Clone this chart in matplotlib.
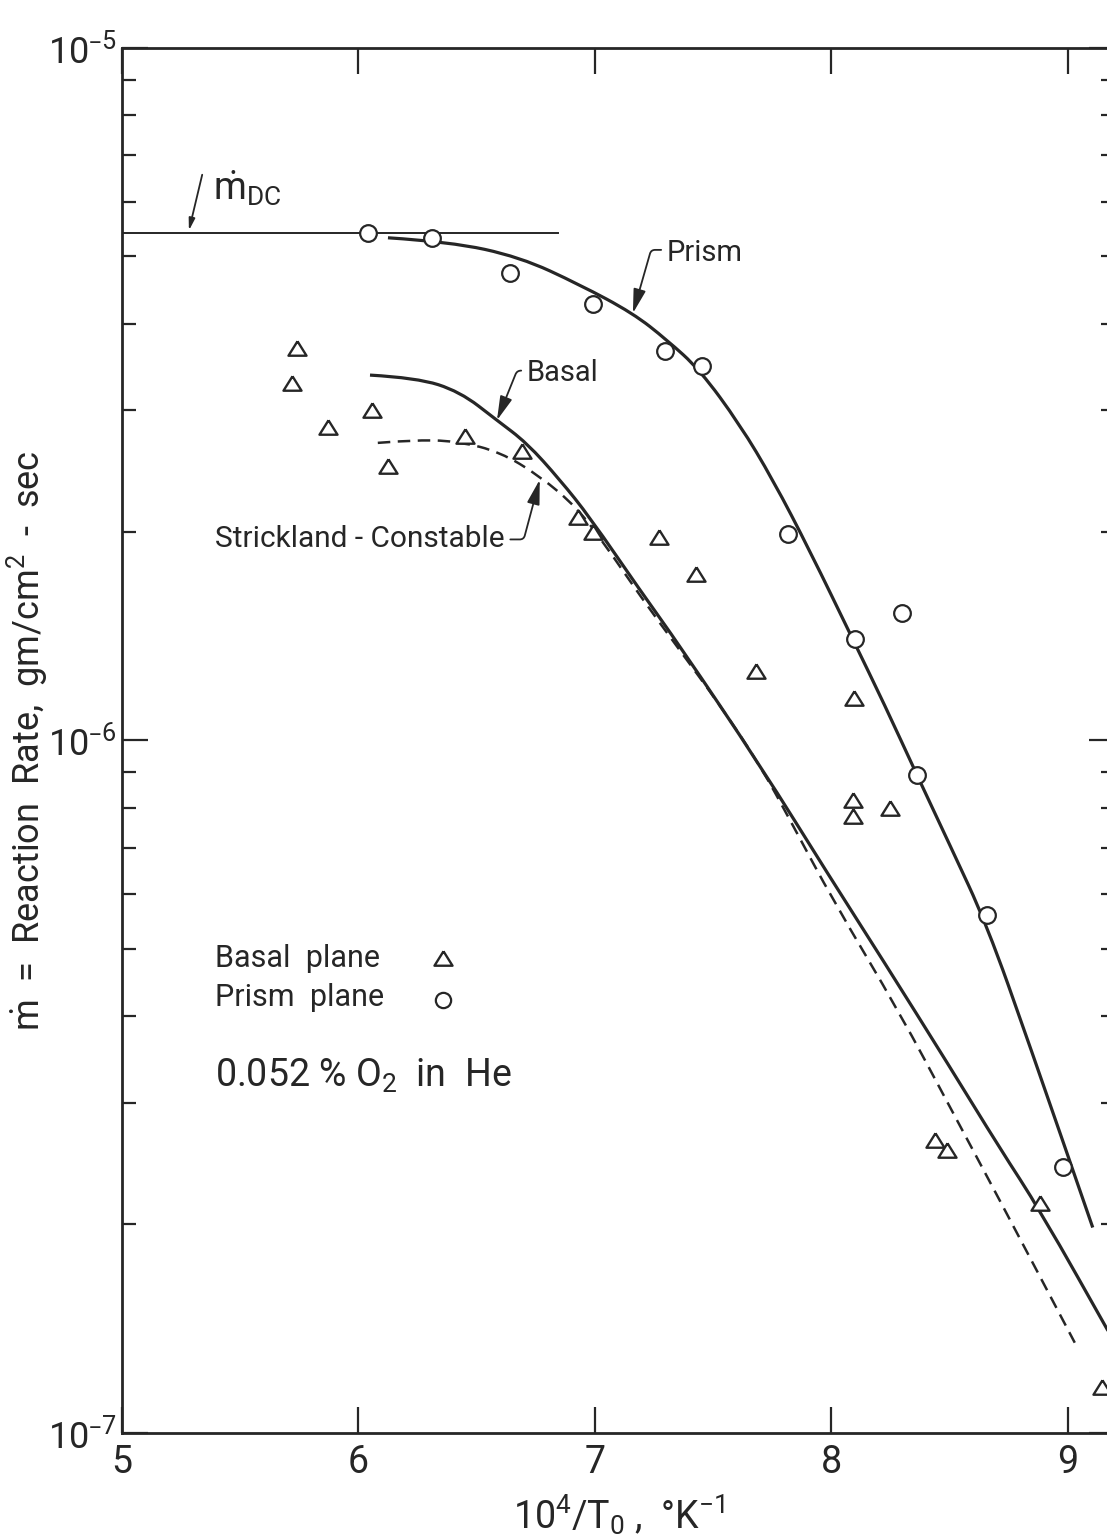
import numpy as np
import matplotlib.pyplot as plt
from matplotlib.path import Path
from matplotlib.patches import PathPatch
from matplotlib.ticker import FixedLocator, LogLocator, FuncFormatter, NullFormatter

plt.rcParams['font.family'] = ['Roboto', 'DejaVu Sans']
plt.rcParams['mathtext.default'] = 'regular'

ink = '#262626'

# measured reaction rates, x = 10^4/T0
basal_x = [5.740, 5.719, 6.057, 5.871, 6.450, 6.691, 6.125, 6.928, 6.992, 7.271,
           7.427, 7.681, 8.095, 8.091, 8.091, 8.247, 8.438, 8.488, 8.882, 9.144]
basal_y = [3.69e-6, 3.28e-6, 3.00e-6, 2.84e-6, 2.75e-6, 2.62e-6, 2.49e-6, 2.10e-6, 2.00e-6, 1.97e-6,
           1.74e-6, 1.26e-6, 1.15e-6, 8.21e-7, 7.78e-7, 7.99e-7, 2.65e-7, 2.56e-7, 2.15e-7, 1.165e-7]

prism_x = [6.040, 6.311, 6.641, 6.992, 7.296, 7.452, 7.816, 8.298, 8.099, 8.362, 8.658, 8.979]
prism_y = [5.41e-6, 5.32e-6, 4.73e-6, 4.27e-6, 3.65e-6, 3.47e-6, 1.99e-6, 1.53e-6, 1.40e-6,
           8.92e-7, 5.60e-7, 2.42e-7]

# hand drawn curves from the original
prism_fit_x = [6.125, 6.387, 6.683, 6.937, 7.161, 7.304, 7.444, 7.613, 7.753, 7.909,
               8.091, 8.226, 8.362, 8.501, 8.658, 8.839, 9.106]
prism_fit_y = [5.32e-6, 5.25e-6, 4.99e-6, 4.55e-6, 4.14e-6, 3.79e-6, 3.43e-6, 2.86e-6, 2.38e-6, 1.88e-6,
               1.40e-6, 1.125e-6, 8.92e-7, 7.07e-7, 5.42e-7, 3.63e-7, 1.98e-7]

basal_fit_x = [6.049, 6.247, 6.429, 6.586, 6.712, 6.852, 6.979, 7.190, 7.359, 7.698,
               7.994, 8.218, 8.501, 8.712, 8.882, 9.199]
basal_fit_y = [3.37e-6, 3.34e-6, 3.19e-6, 2.90e-6, 2.69e-6, 2.38e-6, 2.10e-6, 1.65e-6, 1.37e-6, 9.22e-7,
               6.35e-7, 4.82e-7, 3.38e-7, 2.58e-7, 2.10e-7, 1.35e-7]

sc_x = [6.082, 6.260, 6.429, 6.598, 6.767, 6.924, 7.042, 7.190, 7.359, 7.529,
        7.698, 7.837, 8.006, 8.290, 8.501, 8.712, 9.030]
sc_y = [2.69e-6, 2.72e-6, 2.70e-6, 2.61e-6, 2.41e-6, 2.17e-6, 1.92e-6, 1.62e-6, 1.35e-6, 1.125e-6,
        9.22e-7, 7.55e-7, 5.89e-7, 4.04e-7, 2.96e-7, 2.17e-7, 1.35e-7]

mdc_x = [5.0, 6.844]
mdc_y = [5.41e-6, 5.41e-6]

tri = [(0, 0.8), (-1, -0.8), (1, -0.8), (0, 0.8)]


def curve(xs, ys, **kw):
    # quadratic bezier through the read points (midpoints in log space)
    lx = np.asarray(xs, float)
    ly = np.log10(ys)
    verts = [(lx[0], ly[0])]
    codes = [Path.MOVETO]
    for i in range(1, len(lx) - 1):
        verts += [(lx[i], ly[i]), ((lx[i] + lx[i + 1]) / 2, (ly[i] + ly[i + 1]) / 2)]
        codes += [Path.CURVE3, Path.CURVE3]
    verts.append((lx[-1], ly[-1]))
    codes.append(Path.LINETO)
    v = np.array(verts)
    v[:, 1] = 10 ** v[:, 1]
    ax.add_patch(PathPatch(Path(v, codes), fill=False, edgecolor=ink, capstyle='butt', **kw))


fig = plt.figure(figsize=(11.07, 15.38), dpi=100)
ax = fig.add_axes([0.1102, 0.0683, 0.8970, 0.9005])
ax.set_yscale('log')
ax.set_xlim(5, 9.2)
ax.set_ylim(1e-7, 1e-5)

ax.plot(mdc_x, mdc_y, color=ink, lw=1.4, zorder=2)
curve(prism_fit_x, prism_fit_y, lw=2.3, zorder=2)
curve(basal_fit_x, basal_fit_y, lw=2.3, zorder=2)
curve(sc_x, sc_y, lw=1.8, linestyle=(0, (5, 3)), zorder=2)

ax.plot(prism_x, prism_y, 'o', ms=12, mfc='white', mec=ink, mew=1.6, zorder=3)
ax.plot(basal_x, basal_y, ls='none', marker=tri, ms=13, mfc='white', mec=ink, mew=1.7, zorder=3)

arrow = dict(arrowstyle='-|>,head_length=0.7,head_width=0.18', color=ink, lw=1.3,
             shrinkA=2, shrinkB=0)

ax.annotate('', xy=(5.283, 5.45e-6), xytext=(5.342, 6.62e-6),
            arrowprops=dict(arrow, connectionstyle='arc3'))
ax.text(5.385, 6.03e-6, r'$\dot{m}_{DC}$', fontsize=27, color=ink, va='baseline')

ax.annotate('Prism', xy=(7.161, 4.14e-6), xytext=(7.304, 4.93e-6), fontsize=21, color=ink,
            ha='left', va='baseline',
            arrowprops=dict(arrow, relpos=(0, 0.6),
                            connectionstyle='angle,angleA=0,angleB=74,rad=4'))
ax.annotate('Basal', xy=(6.586, 2.90e-6), xytext=(6.712, 3.30e-6), fontsize=21, color=ink,
            ha='left', va='baseline',
            arrowprops=dict(arrow, relpos=(0, 0.6),
                            connectionstyle='angle,angleA=0,angleB=68,rad=4'))
ax.annotate('Strickland - Constable', xy=(6.767, 2.38e-6), xytext=(6.619, 1.90e-6), fontsize=21.5,
            color=ink, ha='right', va='baseline',
            arrowprops=dict(arrow, relpos=(1, 0.5),
                            connectionstyle='angle,angleA=0,angleB=75,rad=4'))

ax.text(5.393, 4.71e-7, 'Basal  plane', fontsize=22, color=ink, va='baseline')
ax.text(5.393, 4.14e-7, 'Prism  plane', fontsize=22, color=ink, va='baseline')
ax.plot([6.357], [4.85e-7], ls='none', marker=tri, ms=13, mfc='white', mec=ink, mew=1.7)
ax.plot([6.357], [4.22e-7], 'o', ms=11, mfc='white', mec=ink, mew=1.6)
ax.text(5.393, 3.16e-7, '0.052 % O$_2$  in  He', fontsize=27, color=ink, va='baseline')

ax.xaxis.set_major_locator(FixedLocator([5, 6, 7, 8, 9]))
ax.yaxis.set_major_locator(FixedLocator([1e-7, 1e-6, 1e-5]))
ax.yaxis.set_minor_locator(LogLocator(base=10, subs=np.arange(2, 10)))
ax.yaxis.set_minor_formatter(NullFormatter())
ax.yaxis.set_major_formatter(
    FuncFormatter(lambda v, p: '$10^{\u2013%d}$' % abs(round(np.log10(v)))))

ax.tick_params(which='both', direction='in', top=True, right=True, colors=ink)
ax.tick_params(which='major', length=19, width=1.6, labelsize=27, pad=8)
ax.tick_params(which='minor', length=10, width=1.6)
ax.tick_params(axis='y', which='major', pad=4, labelsize=26)
for s in ax.spines.values():
    s.set_linewidth(2.0)
    s.set_color(ink)

ax.set_xlabel('10$^4$/T$_0$ ,  °K$^{-1}$', fontsize=27, color=ink, labelpad=8)
ax.set_ylabel(r'$\dot{m}$  =  Reaction  Rate,  gm/cm$^2$  -  sec', fontsize=26, color=ink)
ax.yaxis.set_label_coords(-0.072, 0.5)

fig.savefig('out.png', dpi=100, facecolor='white')
